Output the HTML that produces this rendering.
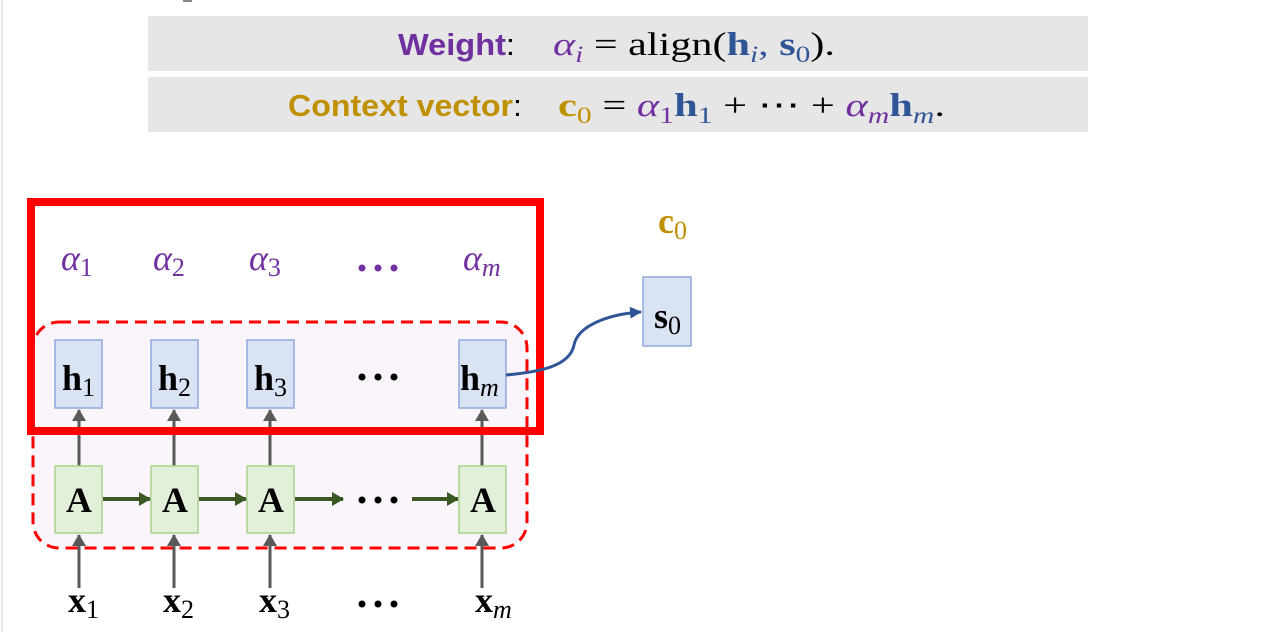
<!DOCTYPE html>
<html><head><meta charset="utf-8"><style>
html,body{margin:0;padding:0;background:#fff;width:1273px;height:632px;overflow:hidden}
svg{display:block}
.m{font-family:"Liberation Serif",serif}
.s{font-family:"Liberation Sans",sans-serif}
</style></head><body>
<svg width="1273" height="632" viewBox="0 0 1273 632" xmlns="http://www.w3.org/2000/svg">
<defs>
<marker id="ag" markerWidth="12" markerHeight="14" refX="11" refY="7" orient="auto" markerUnits="userSpaceOnUse"><path d="M0,0 L12,7 L0,14z" fill="#595959"/></marker>
<marker id="agr" markerWidth="12" markerHeight="14" refX="11" refY="7" orient="auto" markerUnits="userSpaceOnUse"><path d="M0,0 L12,7 L0,14z" fill="#3b5a23"/></marker>
<marker id="ab" markerWidth="12" markerHeight="12" refX="11" refY="6" orient="auto" markerUnits="userSpaceOnUse"><path d="M0,0 L12,6 L0,12z" fill="#2f5597"/></marker>
</defs>
<line x1="2" y1="0" x2="2" y2="632" stroke="#e6e6ee" stroke-width="2"/>
<rect x="183" y="0" width="9" height="2" fill="#888"/>
<rect x="148" y="16" width="940" height="55" fill="#e6e6e6"/>
<rect x="148" y="77" width="940" height="55" fill="#e6e6e6"/>
<text x="398" y="55" font-size="31" class="s" font-weight="bold" fill="#7030a0" textLength="117" lengthAdjust="spacingAndGlyphs">Weight<tspan fill="#000" font-weight="normal">:</tspan></text>
<text x="553" y="55" font-size="33" class="m" textLength="282" lengthAdjust="spacingAndGlyphs"><tspan fill="#7030a0" font-style="italic">α</tspan><tspan fill="#7030a0" font-style="italic" font-size="23" dy="7">i</tspan><tspan dy="-7"> = align(</tspan><tspan fill="#2f5597" font-weight="bold">h</tspan><tspan fill="#2f5597" font-style="italic" font-size="23" dy="7">i</tspan><tspan fill="#2f5597" dy="-7">, </tspan><tspan fill="#2f5597" font-weight="bold">s</tspan><tspan fill="#2f5597" font-size="23" dy="7">0</tspan><tspan dy="-7">).</tspan></text>
<text x="288" y="116" font-size="31" class="s" font-weight="bold" fill="#bf9000" textLength="234" lengthAdjust="spacingAndGlyphs">Context vector<tspan fill="#000" font-weight="normal">:</tspan></text>
<text x="558" y="116" font-size="33" class="m" textLength="387" lengthAdjust="spacingAndGlyphs"><tspan fill="#bf9000" font-weight="bold">c</tspan><tspan fill="#bf9000" font-size="23" dy="7">0</tspan><tspan dy="-7"> = </tspan><tspan fill="#7030a0" font-style="italic">α</tspan><tspan fill="#7030a0" font-size="23" dy="7">1</tspan><tspan fill="#2f5597" font-weight="bold" dy="-7">h</tspan><tspan fill="#2f5597" font-size="23" dy="7">1</tspan><tspan dy="-7"> + ⋯ + </tspan><tspan fill="#7030a0" font-style="italic">α</tspan><tspan fill="#7030a0" font-style="italic" font-size="23" dy="7">m</tspan><tspan fill="#2f5597" font-weight="bold" dy="-7">h</tspan><tspan fill="#2f5597" font-style="italic" font-size="23" dy="7">m</tspan><tspan dy="-7">.</tspan></text>

<rect x="33" y="322" width="494" height="226" rx="26" fill="#faf5fb" stroke="#ff0000" stroke-width="3" stroke-dasharray="12,7"/>

<g stroke="#595959" stroke-width="3">
<line x1="79" y1="588" x2="79" y2="535" marker-end="url(#ag)"/>
<line x1="174" y1="588" x2="174" y2="535" marker-end="url(#ag)"/>
<line x1="270" y1="588" x2="270" y2="535" marker-end="url(#ag)"/>
<line x1="482" y1="588" x2="482" y2="535" marker-end="url(#ag)"/>
<line x1="79" y1="466" x2="79" y2="410" marker-end="url(#ag)"/>
<line x1="174" y1="466" x2="174" y2="410" marker-end="url(#ag)"/>
<line x1="270" y1="466" x2="270" y2="410" marker-end="url(#ag)"/>
<line x1="482" y1="466" x2="482" y2="410" marker-end="url(#ag)"/>
</g>
<g stroke="#3b5a23" stroke-width="4">
<line x1="103" y1="499" x2="150" y2="499" marker-end="url(#agr)"/>
<line x1="199" y1="499" x2="246" y2="499" marker-end="url(#agr)"/>
<line x1="295" y1="499" x2="343" y2="499" marker-end="url(#agr)"/>
<line x1="412" y1="499" x2="458" y2="499" marker-end="url(#agr)"/>
</g>
<g fill="#dae3f3" stroke="#8faadc" stroke-width="1.5">
<rect x="55" y="340" width="47" height="68"/>
<rect x="151" y="340" width="47" height="68"/>
<rect x="247" y="340" width="47" height="68"/>
<rect x="459" y="340" width="47" height="68"/>
<rect x="643" y="277" width="48" height="69"/>
</g>
<g fill="#e2f0d9" stroke="#a9d18e" stroke-width="1.5">
<rect x="55" y="466" width="47" height="67"/>
<rect x="151" y="466" width="47" height="67"/>
<rect x="247" y="466" width="47" height="67"/>
<rect x="459" y="466" width="47" height="67"/>
</g>
<rect x="31" y="202" width="509" height="229" fill="none" stroke="#ff0000" stroke-width="8"/>
<path d="M506,375 C540,372 570,366 574,345 C578,325 610,314 641,312" fill="none" stroke="#2f5597" stroke-width="3" marker-end="url(#ab)"/>

<g class="m" font-size="36" font-weight="bold" fill="#000">
<text x="62" y="390">h<tspan font-size="26" font-weight="normal" dy="6">1</tspan></text>
<text x="158" y="390">h<tspan font-size="26" font-weight="normal" dy="6">2</tspan></text>
<text x="254" y="390">h<tspan font-size="26" font-weight="normal" dy="6">3</tspan></text>
<text x="460" y="390">h<tspan font-size="26" font-weight="normal" font-style="italic" dy="6">m</tspan></text>
<text x="654" y="328">s<tspan font-size="26" font-weight="normal" dy="6">0</tspan></text>
<text x="66" y="512">A</text><text x="162" y="512">A</text><text x="258" y="512">A</text><text x="470" y="512">A</text>
<text x="68" y="612">x<tspan font-size="26" font-weight="normal" dy="6">1</tspan></text>
<text x="163" y="612">x<tspan font-size="26" font-weight="normal" dy="6">2</tspan></text>
<text x="259" y="612">x<tspan font-size="26" font-weight="normal" dy="6">3</tspan></text>
<text x="475" y="612">x<tspan font-size="26" font-weight="normal" font-style="italic" dy="6">m</tspan></text>
<text x="658" y="233" fill="#bf9000">c<tspan font-size="26" font-weight="normal" dy="6">0</tspan></text>
</g>
<g fill="#000">
<circle cx="362" cy="377" r="3.5"/><circle cx="378" cy="377" r="3.5"/><circle cx="394" cy="377" r="3.5"/>
<circle cx="362" cy="500" r="3.5"/><circle cx="378" cy="500" r="3.5"/><circle cx="394" cy="500" r="3.5"/>
<circle cx="362" cy="604" r="3.5"/><circle cx="378" cy="604" r="3.5"/><circle cx="394" cy="604" r="3.5"/>
</g>
<g fill="#7030a0">
<circle cx="362" cy="268" r="3.5"/><circle cx="378" cy="268" r="3.5"/><circle cx="394" cy="268" r="3.5"/>
</g>
<g class="m" font-size="36" fill="#7030a0" font-style="italic">
<text x="61" y="270">α<tspan font-size="26" font-style="normal" dy="6">1</tspan></text>
<text x="153" y="270">α<tspan font-size="26" font-style="normal" dy="6">2</tspan></text>
<text x="249" y="270">α<tspan font-size="26" font-style="normal" dy="6">3</tspan></text>
<text x="463" y="270">α<tspan font-size="26" dy="6">m</tspan></text>
</g>
</svg>
</body></html>
